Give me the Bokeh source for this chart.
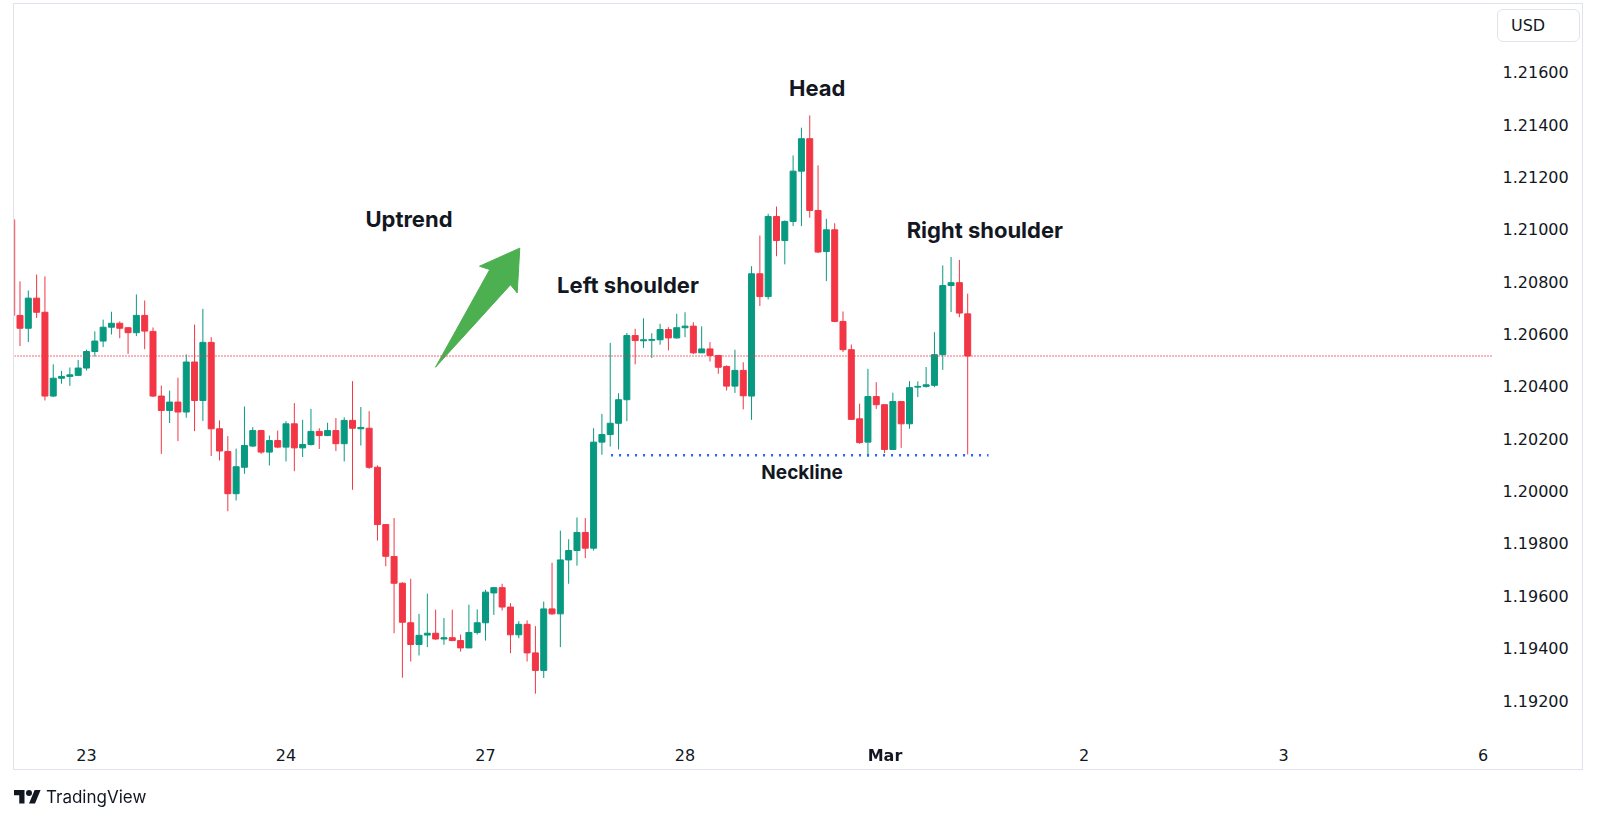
from bokeh.plotting import figure
from bokeh.models import ColumnDataSource, FixedTicker, Span, Div, PrintfTickFormatter, Range1d
from bokeh.layouts import column
from bokeh.embed import file_html
from bokeh.resources import INLINE
from bokeh.core.properties import value

# hourly bars, index 0 = 23 Feb 00:00
bar_index = list(range(-9, 107))
opens = [1.21037, 1.20671, 1.20622, 1.20737, 1.20683, 1.20363, 1.20431, 1.20438, 1.20442,
         1.20470, 1.20533, 1.20573, 1.20626, 1.20641, 1.20624, 1.20605, 1.20671, 1.20610,
         1.20363, 1.20308, 1.20340, 1.20302, 1.20493, 1.20346, 1.20568, 1.20238, 1.20151,
         1.19990, 1.20091, 1.20172, 1.20231, 1.20149, 1.20193, 1.20168, 1.20257, 1.20165,
         1.20178, 1.20228, 1.20212, 1.20231, 1.20181, 1.20270, 1.20238, 1.20240, 1.20091,
         1.19872, 1.19750, 1.19648, 1.19497, 1.19414, 1.19450, 1.19457, 1.19435, 1.19440,
         1.19429, 1.19401, 1.19460, 1.19497, 1.19611, 1.19631, 1.19557, 1.19451, 1.19491,
         1.19382, 1.19315, 1.19550, 1.19531, 1.19737, 1.19773, 1.19842, 1.19782, 1.20187,
         1.20216, 1.20259, 1.20349, 1.20594, 1.20574, 1.20576, 1.20578, 1.20617, 1.20585,
         1.20624, 1.20630, 1.20528, 1.20543, 1.20518, 1.20476, 1.20401, 1.20461, 1.20363,
         1.20830, 1.20743, 1.21049, 1.20957, 1.21030, 1.21222, 1.21346, 1.21072, 1.20915,
         1.20998, 1.20648, 1.20540, 1.20276, 1.20187, 1.20361, 1.20330, 1.20159, 1.20342,
         1.20257, 1.20397, 1.20400, 1.20404, 1.20521, 1.20785, 1.20796, 1.20677]
highs = [1.21040, 1.20801, 1.20766, 1.20827, 1.20820, 1.20484, 1.20459, 1.20472, 1.20501,
         1.20540, 1.20610, 1.20655, 1.20685, 1.20648, 1.20626, 1.20751, 1.20728, 1.20625,
         1.20403, 1.20384, 1.20433, 1.20522, 1.20636, 1.20696, 1.20588, 1.20270, 1.20210,
         1.20162, 1.20323, 1.20244, 1.20234, 1.20212, 1.20231, 1.20267, 1.20336, 1.20272,
         1.20314, 1.20240, 1.20261, 1.20279, 1.20282, 1.20420, 1.20321, 1.20305, 1.20098,
         1.19872, 1.19897, 1.19652, 1.19665, 1.19531, 1.19608, 1.19547, 1.19515, 1.19547,
         1.19452, 1.19566, 1.19548, 1.19623, 1.19633, 1.19646, 1.19572, 1.19503, 1.19506,
         1.19484, 1.19578, 1.19726, 1.19849, 1.19816, 1.19899, 1.19897, 1.20240, 1.20295,
         1.20566, 1.20374, 1.20604, 1.20620, 1.20660, 1.20603, 1.20639, 1.20626, 1.20677,
         1.20683, 1.20645, 1.20629, 1.20569, 1.20520, 1.20480, 1.20540, 1.20492, 1.20859,
         1.20976, 1.21059, 1.21087, 1.21034, 1.21282, 1.21388, 1.21435, 1.21244, 1.21040,
         1.21023, 1.20686, 1.20560, 1.20334, 1.20467, 1.20416, 1.20330, 1.20376, 1.20342,
         1.20420, 1.20419, 1.20474, 1.20607, 1.20862, 1.20894, 1.20883, 1.20754]
lows = [1.20660, 1.20554, 1.20569, 1.20661, 1.20346, 1.20359, 1.20410, 1.20402, 1.20439,
        1.20461, 1.20514, 1.20550, 1.20598, 1.20584, 1.20524, 1.20592, 1.20542, 1.20359,
        1.20142, 1.20260, 1.20191, 1.20280, 1.20229, 1.20268, 1.20134, 1.20117, 1.19923,
        1.19964, 1.20066, 1.20168, 1.20142, 1.20098, 1.20164, 1.20113, 1.20076, 1.20130,
        1.20174, 1.20161, 1.20210, 1.20153, 1.20113, 1.20005, 1.20174, 1.20085, 1.19811,
        1.19713, 1.19457, 1.19287, 1.19349, 1.19372, 1.19404, 1.19432, 1.19413, 1.19427,
        1.19387, 1.19400, 1.19452, 1.19429, 1.19527, 1.19544, 1.19381, 1.19438, 1.19349,
        1.19226, 1.19286, 1.19527, 1.19404, 1.19646, 1.19715, 1.19744, 1.19773, 1.20139,
        1.20170, 1.20159, 1.20267, 1.20484, 1.20547, 1.20508, 1.20559, 1.20537, 1.20582,
        1.20588, 1.20524, 1.20528, 1.20495, 1.20448, 1.20384, 1.20375, 1.20312, 1.20272,
        1.20707, 1.20732, 1.20897, 1.20866, 1.21012, 1.21012, 1.21044, 1.20909, 1.20802,
        1.20645, 1.20531, 1.20272, 1.20181, 1.20130, 1.20314, 1.20145, 1.20158, 1.20165,
        1.20238, 1.20359, 1.20395, 1.20397, 1.20463, 1.20684, 1.20664, 1.20140]
closes = [1.20671, 1.20622, 1.20737, 1.20683, 1.20363, 1.20431, 1.20438, 1.20444, 1.20470,
          1.20533, 1.20573, 1.20626, 1.20641, 1.20622, 1.20605, 1.20671, 1.20611, 1.20363,
          1.20308, 1.20340, 1.20302, 1.20493, 1.20346, 1.20568, 1.20238, 1.20153, 1.19990,
          1.20093, 1.20174, 1.20231, 1.20149, 1.20193, 1.20168, 1.20257, 1.20165, 1.20178,
          1.20228, 1.20212, 1.20231, 1.20181, 1.20270, 1.20240, 1.20243, 1.20091, 1.19872,
          1.19751, 1.19648, 1.19499, 1.19414, 1.19449, 1.19457, 1.19435, 1.19440, 1.19429,
          1.19401, 1.19460, 1.19497, 1.19614, 1.19631, 1.19557, 1.19451, 1.19491, 1.19382,
          1.19315, 1.19550, 1.19531, 1.19737, 1.19773, 1.19842, 1.19782, 1.20187, 1.20216,
          1.20259, 1.20349, 1.20594, 1.20575, 1.20578, 1.20579, 1.20617, 1.20585, 1.20624,
          1.20630, 1.20528, 1.20543, 1.20518, 1.20473, 1.20401, 1.20461, 1.20364, 1.20830,
          1.20743, 1.21049, 1.20957, 1.21030, 1.21222, 1.21346, 1.21072, 1.20913, 1.20998,
          1.20648, 1.20540, 1.20274, 1.20185, 1.20361, 1.20330, 1.20159, 1.20342, 1.20257,
          1.20395, 1.20400, 1.20406, 1.20521, 1.20785, 1.20796, 1.20680, 1.20516]

day_ticks = [0, 24, 48, 72, 96, 120, 144, 168]
day_labels = ["23", "24", "27", "28", "Mar", "2", "3", "6"]
price_ticks = [1.192, 1.194, 1.196, 1.198, 1.200, 1.202, 1.204, 1.206, 1.208, 1.210, 1.212, 1.214, 1.216]

ann_text = ["Uptrend", "Left shoulder", "Head", "Right shoulder"]
ann_x = [38.79, 65.14, 87.90, 108.06]
ann_y = [1.21041, 1.20787, 1.21540, 1.20998]
neck_text = ["Neckline"]
neck_text_x = [86.08]
neck_text_y = [1.20072]
neckline_x = [63.1, 108.5]
neckline_price = 1.20137
arrow_x = [41.98, 48.51, 47.28, 52.12, 51.81, 51.00]
arrow_y = [1.20473, 1.20846, 1.20859, 1.20928, 1.20757, 1.20788]

UP = "#089981"
DOWN = "#f23645"
TXT = "#131722"
AXIS_FONT = "DejaVu Sans"

colors = [UP if c >= o else DOWN for o, c in zip(opens, closes)]
src = ColumnDataSource(dict(x=bar_index, o=opens, h=highs, l=lows, c=closes,
                            top=[max(o, c) for o, c in zip(opens, closes)],
                            bot=[min(o, c) for o, c in zip(opens, closes)],
                            color=colors))

p = figure(width=1570, height=767, output_backend="svg", toolbar_location=None,
           x_range=Range1d(-8.661, 169.13), y_range=Range1d(1.190473, 1.218586),
           y_axis_location="right", min_border_left=0, min_border_right=92,
           min_border_top=0, min_border_bottom=31)
p.margin = (3, 0, 0, 13)
p.styles = {"border": "1px solid #e0e3eb"}
p.outline_line_color = None
p.grid.visible = False
p.background_fill_color = "white"
p.border_fill_color = "white"

p.segment(x0="x", y0="h", x1="x", y1="l", color="color", line_width=1, source=src)
p.vbar(x="x", top="top", bottom="bot", width=0.72, fill_color="color", line_color="color",
       line_width=1, source=src)

p.add_layout(Span(location=closes[-1], dimension="width", line_color=DOWN,
                  line_dash="1 2", line_width=1.4))
p.line(neckline_x, [neckline_price, neckline_price], line_color="#2962ff", line_width=2.5,
       line_dash="2 6")
p.patch(arrow_x, arrow_y, fill_color="#4caf50", line_color="#4caf50", line_width=1)

p.text(x=ann_x, y=ann_y, text=ann_text, text_font=value("Inter"), text_font_style="bold",
       text_font_size="22px", text_align="center", text_baseline="middle", text_color=TXT)
p.text(x=neck_text_x, y=neck_text_y, text=neck_text, text_font=value("Inter"),
       text_font_style="bold", text_font_size="19px", text_align="center",
       text_baseline="middle", text_color=TXT)

# axes
for ax in (p.xaxis[0], p.yaxis[0]):
    ax.axis_line_color = None
    ax.major_tick_line_color = None
    ax.minor_tick_line_color = None
    ax.major_label_text_font = AXIS_FONT
    ax.major_label_text_font_size = "16px"
    ax.major_label_text_color = TXT
p.xaxis.ticker = FixedTicker(ticks=day_ticks)
# the month label is drawn bold in the overlay below
p.xaxis.major_label_overrides = {t: ("" if lab == "Mar" else lab) for t, lab in zip(day_ticks, day_labels)}
p.xaxis.major_label_standoff = 2
p.yaxis.ticker = FixedTicker(ticks=price_ticks)
p.yaxis.formatter = PrintfTickFormatter(format="%.5f")
p.yaxis.major_label_standoff = 4

overlay = Div(text=(
    # currency box in the price scale
    '<div style="position:fixed;left:1497px;top:9px;width:83px;height:33px;box-sizing:border-box;'
    'border:1px solid #e0e3eb;border-radius:6px;background:white;font-family:\'DejaVu Sans\';'
    'font-size:16px;line-height:31px;color:#131722;padding-left:13px;">USD</div>'
    # bold month label on the time scale
    '<div style="position:fixed;left:835px;top:746px;width:100px;text-align:center;'
    'font-family:\'DejaVu Sans\';font-weight:bold;font-size:16px;line-height:20px;color:#131722;">'
    + day_labels[4] + '</div>'
    # TradingView logo
    '<svg style="position:fixed;left:14px;top:787px;" width="27" height="21" viewBox="0 0 36 28">'
    '<path d="M14 22H7V11H0V4h14v18zM28 22h-8l7.5-18h8L28 22z" fill="#131722"/>'
    '<circle cx="20" cy="8" r="4" fill="#131722"/></svg>'
    '<div style="position:fixed;left:46px;top:787px;font-family:Inter;font-size:17px;'
    'line-height:20px;color:#131722;">TradingView</div>'),
    width=10, height=10, margin=(0, 0, 0, 0))

layout = column(p, overlay)
open("out.html", "w").write(file_html(layout, INLINE))
